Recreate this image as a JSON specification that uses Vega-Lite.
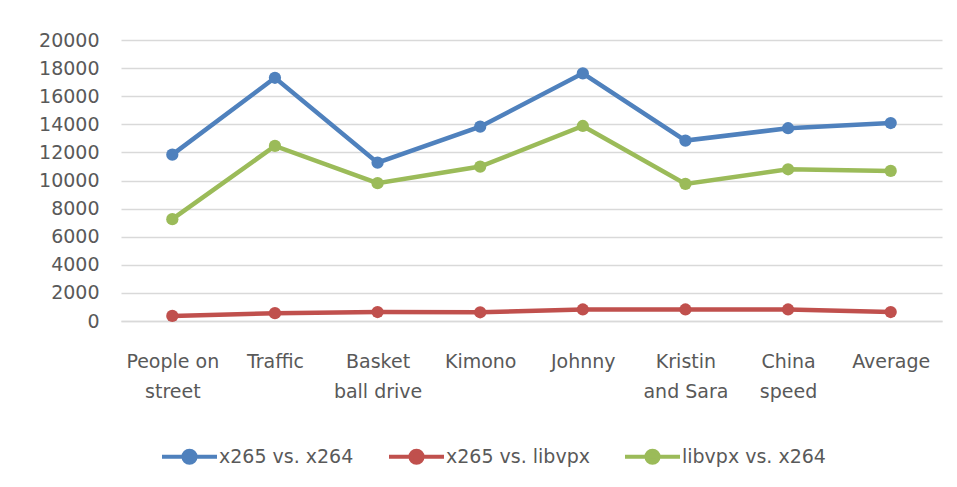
{
  "$schema": "https://vega.github.io/schema/vega-lite/v6.json",
  "autosize": {"type": "none"},
  "width": 821,
  "height": 281,
  "padding": {"left": 121, "top": 40, "right": 15, "bottom": 166},
  "background": "white",
  "config": {
    "view": {"stroke": null},
    "font": "DejaVu Sans"
  },
  "data": {
    "values": [
      {"video": "People on street", "series": "x265 vs. x264", "value": 11840},
      {"video": "Traffic", "series": "x265 vs. x264", "value": 17310},
      {"video": "Basket ball drive", "series": "x265 vs. x264", "value": 11270},
      {"video": "Kimono", "series": "x265 vs. x264", "value": 13830},
      {"video": "Johnny", "series": "x265 vs. x264", "value": 17630},
      {"video": "Kristin and Sara", "series": "x265 vs. x264", "value": 12840},
      {"video": "China speed", "series": "x265 vs. x264", "value": 13720},
      {"video": "Average", "series": "x265 vs. x264", "value": 14090},
      {"video": "People on street", "series": "x265 vs. libvpx", "value": 360},
      {"video": "Traffic", "series": "x265 vs. libvpx", "value": 560},
      {"video": "Basket ball drive", "series": "x265 vs. libvpx", "value": 640},
      {"video": "Kimono", "series": "x265 vs. libvpx", "value": 620},
      {"video": "Johnny", "series": "x265 vs. libvpx", "value": 820},
      {"video": "Kristin and Sara", "series": "x265 vs. libvpx", "value": 820},
      {"video": "China speed", "series": "x265 vs. libvpx", "value": 820},
      {"video": "Average", "series": "x265 vs. libvpx", "value": 640},
      {"video": "People on street", "series": "libvpx vs. x264", "value": 7250},
      {"video": "Traffic", "series": "libvpx vs. x264", "value": 12460},
      {"video": "Basket ball drive", "series": "libvpx vs. x264", "value": 9810},
      {"video": "Kimono", "series": "libvpx vs. x264", "value": 10990},
      {"video": "Johnny", "series": "libvpx vs. x264", "value": 13880},
      {"video": "Kristin and Sara", "series": "libvpx vs. x264", "value": 9760},
      {"video": "China speed", "series": "libvpx vs. x264", "value": 10800},
      {"video": "Average", "series": "libvpx vs. x264", "value": 10680}
    ]
  },
  "mark": {
    "type": "line",
    "strokeWidth": 4.5,
    "point": {"filled": true, "size": 150}
  },
  "encoding": {
    "x": {
      "field": "video",
      "type": "nominal",
      "sort": null,
      "scale": {"type": "point", "padding": 0.5},
      "axis": {
        "title": null,
        "labelAngle": 0,
        "domain": true,
        "domainColor": "#d9d9d9",
        "domainWidth": 1.5,
        "ticks": false,
        "grid": false,
        "labelPadding": 46,
        "labelFontSize": 19,
        "labelColor": "#595959",
        "labelLineHeight": 30,
        "labelBaseline": "alphabetic",
        "labelExpr": "datum.value == 'People on street' ? ['People on', 'street'] : datum.value == 'Basket ball drive' ? ['Basket', 'ball drive'] : datum.value == 'Kristin and Sara' ? ['Kristin', 'and Sara'] : datum.value == 'China speed' ? ['China', 'speed'] : datum.value"
      }
    },
    "y": {
      "field": "value",
      "type": "quantitative",
      "scale": {"domain": [0, 20000]},
      "axis": {
        "title": null,
        "values": [0, 2000, 4000, 6000, 8000, 10000, 12000, 14000, 16000, 18000, 20000],
        "format": "d",
        "domain": false,
        "ticks": false,
        "gridColor": "#d9d9d9",
        "gridWidth": 1.5,
        "labelPadding": 22,
        "labelFontSize": 19,
        "labelColor": "#595959"
      }
    },
    "color": {
      "field": "series",
      "type": "nominal",
      "sort": ["x265 vs. x264", "x265 vs. libvpx", "libvpx vs. x264"],
      "scale": {
        "domain": ["x265 vs. x264", "x265 vs. libvpx", "libvpx vs. x264"],
        "range": ["#4f81bd", "#c0504d", "#9bbb59"]
      },
      "legend": {
        "title": null,
        "orient": "none",
        "direction": "horizontal",
        "legendX": 39,
        "legendY": 387,
        "symbolType": "M-1,0H1M-0.22,0A0.22,0.22 0 1,0 0.22,0A0.22,0.22 0 1,0 -0.22,0",
        "symbolSize": 3025,
        "symbolStrokeWidth": 4,
        "labelFontSize": 19,
        "labelColor": "#595959",
        "labelOffset": 0,
        "columnPadding": 27,
        "encode": {
          "symbols": {
            "update": {
              "fill": {"scale": "color", "field": "value"},
              "stroke": {"scale": "color", "field": "value"},
              "opacity": {"value": 1}
            }
          }
        }
      }
    }
  }
}
